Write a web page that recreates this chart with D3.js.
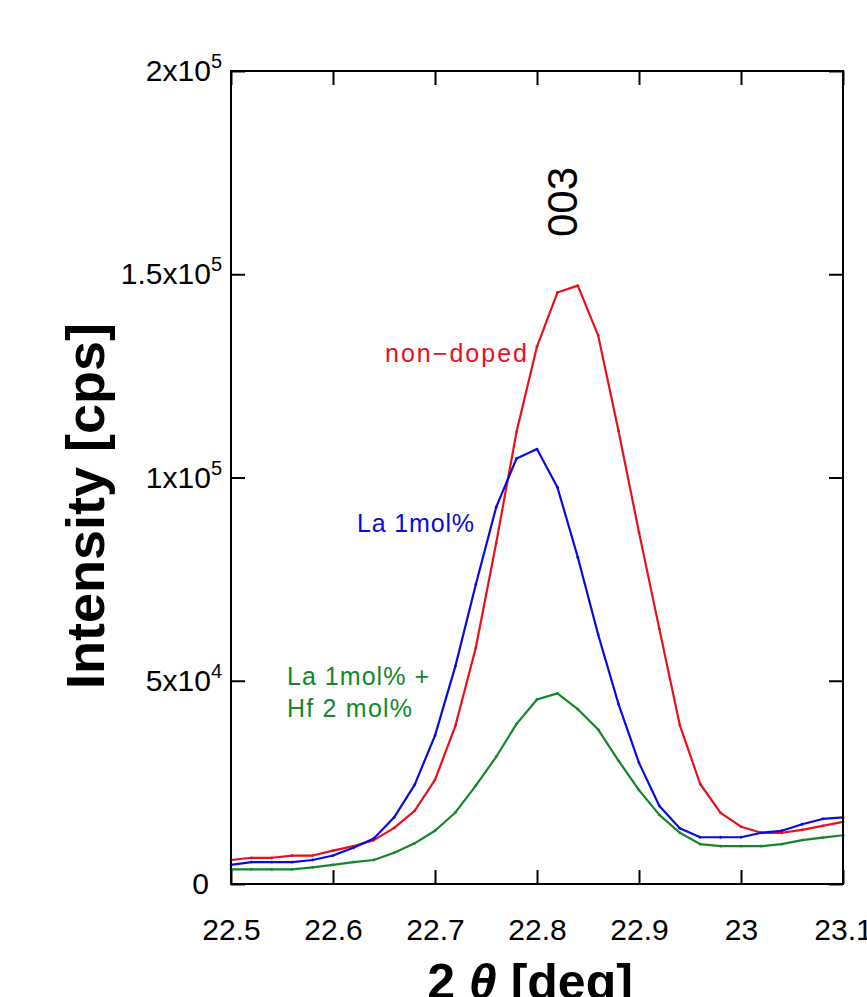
<!DOCTYPE html>
<html><head><meta charset="utf-8">
<script src="https://cdn.jsdelivr.net/npm/d3@7"></script>
<style>body{margin:0;background:#fff}svg{display:block}</style>
</head><body>
<svg id="c" width="867" height="997"></svg>
<script>
// ---- data ----
const twoTheta = [22.50,22.52,22.54,22.56,22.58,22.60,22.62,22.64,22.66,22.68,22.70,22.72,22.74,22.76,22.78,22.80,22.82,22.84,22.86,22.88,22.90,22.92,22.94,22.96,22.98,23.00,23.02,23.04,23.06,23.08,23.10];
const nonDoped = [5900,6450,6450,7000,7000,8200,9300,10800,13800,18000,25600,38900,58100,83900,111300,132200,145500,147200,134900,111400,86500,62700,39100,24600,17500,14100,12600,12600,13300,14300,15300];
const la1 = [4700,5400,5400,5400,5900,7000,8900,11200,16400,24400,36500,53600,73700,92700,104700,107000,97600,80400,61300,44200,29800,19200,13700,11500,11500,11500,12600,13100,14700,16000,16400];
const laHf = [3600,3600,3600,3600,4100,4700,5400,5900,7700,10000,13100,17600,24200,31300,39400,45400,46900,43000,38000,30300,23100,17000,12600,9800,9300,9300,9300,9800,10800,11400,12000];
const xTicks = [22.5,22.6,22.7,22.8,22.9,23.0,23.1];
const xTickLabels = ["22.5","22.6","22.7","22.8","22.9","23","23.1"];
const yTicks = [0,50000,100000,150000,200000];
const yTickMant = ["0","5x10","1x10","1.5x10","2x10"];
const yTickExp = ["","4","5","5","5"];

const series = [
  {name:"non\u2212doped", values:nonDoped, color:"#e8101c"},
  {name:"La 1mol%", values:la1, color:"#0a0ae0"},
  {name:"La 1mol% + Hf 2 mol%", values:laHf, color:"#13862a"}
];

// ---- layout ----
const m = {left:231, right:843, top:71, bottom:884};
const x = d3.scaleLinear().domain([22.5,23.1]).range([m.left,m.right]);
const y = d3.scaleLinear().domain([0,200000]).range([m.bottom,m.top]);
const svg = d3.select("#c");
const font = "'Liberation Sans', Arial, Helvetica, sans-serif";

// curves
const line = d3.line().x((d,i)=>x(twoTheta[i])).y(d=>y(d));
const drawOrder = [2,0,1];
drawOrder.forEach(k=>{
  const s = series[k];
  svg.append("path").datum(s.values).attr("d",line)
    .attr("fill","none").attr("stroke",s.color).attr("stroke-width",2.2)
    .attr("stroke-linejoin","round");
  svg.append("g").selectAll("circle").data(s.values).join("circle")
    .attr("cx",(d,i)=>x(twoTheta[i])).attr("cy",d=>y(d)).attr("r",1.4)
    .attr("fill",s.color);
});

// axes
function styleAxis(g){
  g.select(".domain").remove();
  g.selectAll(".tick line").attr("stroke","#000").attr("stroke-width",2);
}
const gB = svg.append("g").attr("transform",`translate(0,${m.bottom})`)
  .call(d3.axisBottom(x).tickValues(xTicks).tickSize(-14).tickSizeOuter(0).tickPadding(35)
    .tickFormat((d,i)=>xTickLabels[i]));
styleAxis(gB);
gB.selectAll(".tick text").attr("font-family",font).attr("font-size",30).attr("fill","#000");

const gT = svg.append("g").attr("transform",`translate(0,${m.top})`)
  .call(d3.axisTop(x).tickValues(xTicks).tickSize(-14).tickSizeOuter(0).tickFormat(""));
styleAxis(gT);

const gL = svg.append("g").attr("transform",`translate(${m.left},0)`)
  .call(d3.axisLeft(y).tickValues(yTicks).tickSize(-14).tickSizeOuter(0).tickPadding(9).tickFormat(""));
styleAxis(gL);
gL.selectAll(".tick").each(function(d,i){
  const t = d3.select(this).select("text");
  t.text(null).attr("font-family",font).attr("font-size",30).attr("fill","#000")
   .attr("text-anchor","end").attr("dy","0.32em");
  if (yTickExp[i]===""){
    t.attr("x",-22).text(yTickMant[i]);
  } else {
    t.append("tspan").text(yTickMant[i]);
    t.append("tspan").attr("font-size",20).attr("dy",-13).text(yTickExp[i]);
  }
});

const gR = svg.append("g").attr("transform",`translate(${m.right},0)`)
  .call(d3.axisRight(y).tickValues(yTicks).tickSize(-14).tickSizeOuter(0).tickFormat(""));
styleAxis(gR);

// frame
svg.append("rect").attr("x",m.left).attr("y",m.top)
  .attr("width",m.right-m.left).attr("height",m.bottom-m.top)
  .attr("fill","none").attr("stroke","#000").attr("stroke-width",2);

// series labels
const labels = [
  {text:"non\u2212doped", x:385, y:362, w:142, c:series[0].color},
  {text:"La 1mol%", x:357, y:532, w:117, c:series[1].color},
  {text:"La 1mol% +", x:287, y:685, w:142, c:series[2].color},
  {text:"Hf 2 mol%", x:287, y:717, w:125, c:series[2].color}
];
svg.append("g").selectAll("text").data(labels).join("text")
  .attr("x",d=>d.x).attr("y",d=>d.y).attr("fill",d=>d.c)
  .attr("font-family",font).attr("font-size",25)
  .attr("textLength",d=>d.w).attr("lengthAdjust","spacing")
  .text(d=>d.text);

// peak label
svg.append("text").attr("transform","translate(577,202) rotate(-90)")
  .attr("text-anchor","middle").attr("font-family",font).attr("font-size",42)
  .attr("fill","#000").text("003");

// axis titles
svg.append("text").attr("transform","translate(104,506) rotate(-90)")
  .attr("text-anchor","middle").attr("font-family",font).attr("font-size",54)
  .attr("font-weight","bold").attr("fill","#000").text("Intensity [cps]");

const xt = svg.append("text").attr("x",530).attr("y",999)
  .attr("text-anchor","middle").attr("font-family",font).attr("font-size",50)
  .attr("font-weight","bold").attr("fill","#000");
xt.append("tspan").text("2 ");
xt.append("tspan").attr("font-style","italic").text("\u03b8");
xt.append("tspan").text(" [deg]");
</script>
</body></html>
